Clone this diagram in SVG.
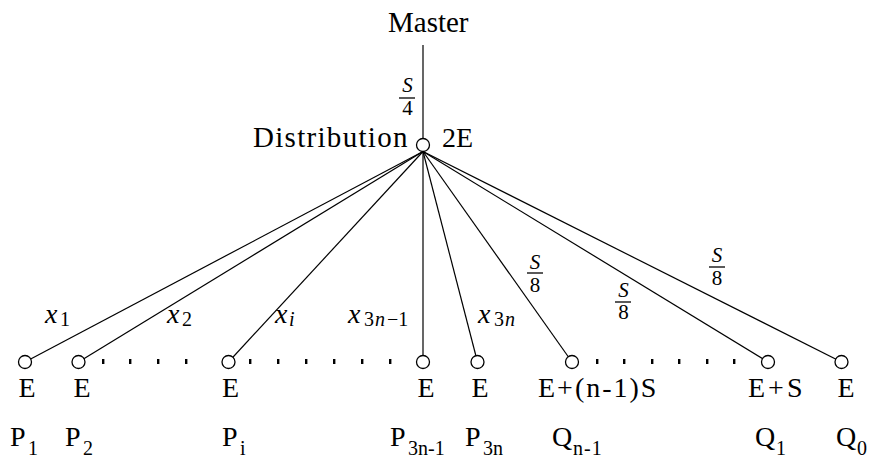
<svg xmlns="http://www.w3.org/2000/svg" width="869" height="460" viewBox="0 0 869 460">
<rect width="869" height="460" fill="#fff"/>
<g id="connectors" stroke="#000" stroke-width="1.2" fill="none">
<line x1="423" y1="45" x2="423" y2="139"/>
<line x1="423" y1="151.5" x2="25" y2="362"/>
<line x1="423" y1="151.5" x2="78.5" y2="362"/>
<line x1="423" y1="151.5" x2="228.5" y2="362"/>
<line x1="423" y1="151.5" x2="423" y2="362"/>
<line x1="423" y1="151.5" x2="477.5" y2="362"/>
<line x1="423" y1="151.5" x2="572" y2="362"/>
<line x1="423" y1="151.5" x2="768" y2="362"/>
<line x1="423" y1="151.5" x2="841.5" y2="362"/>
<line x1="399" y1="98" x2="415" y2="98" stroke-width="1.3"/>
<line x1="527" y1="273" x2="543" y2="273" stroke-width="1.3"/>
<line x1="615" y1="302" x2="631" y2="302" stroke-width="1.3"/>
<line x1="709" y1="267" x2="725" y2="267" stroke-width="1.3"/>
</g>
<g id="edge-labels">
<text x="407.5" y="92" font-family="Liberation Serif" font-size="21" font-style="italic" text-anchor="middle">S</text>
<text x="407.5" y="115" font-family="Liberation Serif" font-size="21" text-anchor="middle">4</text>
<text x="535" y="269" font-family="Liberation Serif" font-size="21" font-style="italic" text-anchor="middle">S</text>
<text x="535" y="292" font-family="Liberation Serif" font-size="21" text-anchor="middle">8</text>
<text x="623.5" y="297" font-family="Liberation Serif" font-size="21" font-style="italic" text-anchor="middle">S</text>
<text x="623.5" y="319" font-family="Liberation Serif" font-size="21" text-anchor="middle">8</text>
<text x="717" y="262" font-family="Liberation Serif" font-size="21" font-style="italic" text-anchor="middle">S</text>
<text x="717" y="285" font-family="Liberation Serif" font-size="21" text-anchor="middle">8</text>
<text x="45" y="323" font-family="Liberation Serif" font-size="28" font-style="italic">x</text>
<text x="60" y="326" font-family="Liberation Serif" font-size="20">1</text>
<text x="167" y="323" font-family="Liberation Serif" font-size="28" font-style="italic">x</text>
<text x="182" y="326" font-family="Liberation Serif" font-size="20">2</text>
<text x="275" y="323" font-family="Liberation Serif" font-size="28" font-style="italic">x</text>
<text x="289" y="326" font-family="Liberation Serif" font-size="20" font-style="italic">i</text>
<text x="348" y="323" font-family="Liberation Serif" font-size="28" font-style="italic">x</text>
<text x="364" y="326" font-family="Liberation Serif" font-size="20">3</text>
<text x="375" y="326" font-family="Liberation Serif" font-size="20" font-style="italic">n</text>
<text x="387" y="326" font-family="Liberation Serif" font-size="20">−1</text>
<text x="478" y="323" font-family="Liberation Serif" font-size="28" font-style="italic">x</text>
<text x="494" y="326" font-family="Liberation Serif" font-size="20">3</text>
<text x="505" y="326" font-family="Liberation Serif" font-size="20" font-style="italic">n</text>
</g>
<g id="master">
<text x="388" y="32" font-family="Liberation Serif" font-size="29">Master</text>
</g>
<g id="distribution">
<circle cx="423" cy="145" r="6.5" fill="#fff" stroke="#000" stroke-width="1.3"/>
<text x="253" y="147" font-family="Liberation Serif" font-size="29" letter-spacing="1.3">Distribution</text>
<text x="442" y="147" font-family="Liberation Serif" font-size="28">2E</text>
</g>
<g id="dots" fill="#000">
<rect x="102" y="359" width="2.4" height="5"/>
<rect x="129" y="359" width="2.4" height="5"/>
<rect x="157" y="359" width="2.4" height="5"/>
<rect x="185" y="359" width="2.4" height="5"/>
<rect x="249" y="359" width="2.4" height="5"/>
<rect x="277" y="359" width="2.4" height="5"/>
<rect x="305" y="359" width="2.4" height="5"/>
<rect x="333" y="359" width="2.4" height="5"/>
<rect x="361" y="359" width="2.4" height="5"/>
<rect x="389" y="359" width="2.4" height="5"/>
<rect x="596" y="359" width="2.4" height="5"/>
<rect x="623" y="359" width="2.4" height="5"/>
<rect x="651" y="359" width="2.4" height="5"/>
<rect x="678" y="359" width="2.4" height="5"/>
<rect x="706" y="359" width="2.4" height="5"/>
<rect x="733" y="359" width="2.4" height="5"/>
</g>
<g id="P1">
<circle cx="25" cy="362" r="6.5" fill="#fff" stroke="#000" stroke-width="1.3"/>
<text x="27" y="397" font-family="Liberation Serif" font-size="28" text-anchor="middle">E</text>
<text x="10" y="446" font-family="Liberation Serif" font-size="28">P</text>
<text x="28" y="455" font-family="Liberation Serif" font-size="20">1</text>
</g>
<g id="P2">
<circle cx="78.5" cy="362" r="6.5" fill="#fff" stroke="#000" stroke-width="1.3"/>
<text x="82" y="397" font-family="Liberation Serif" font-size="28" text-anchor="middle">E</text>
<text x="65" y="446" font-family="Liberation Serif" font-size="28">P</text>
<text x="83" y="455" font-family="Liberation Serif" font-size="20">2</text>
</g>
<g id="Pi">
<circle cx="228.5" cy="362" r="6.5" fill="#fff" stroke="#000" stroke-width="1.3"/>
<text x="230.5" y="397" font-family="Liberation Serif" font-size="28" text-anchor="middle">E</text>
<text x="222" y="446" font-family="Liberation Serif" font-size="28">P</text>
<text x="240" y="455" font-family="Liberation Serif" font-size="20">i</text>
</g>
<g id="P3n-1">
<circle cx="423" cy="362" r="6.5" fill="#fff" stroke="#000" stroke-width="1.3"/>
<text x="426" y="397" font-family="Liberation Serif" font-size="28" text-anchor="middle">E</text>
<text x="390" y="446" font-family="Liberation Serif" font-size="28">P</text>
<text x="408" y="455" font-family="Liberation Serif" font-size="20">3n-1</text>
</g>
<g id="P3n">
<circle cx="477.5" cy="362" r="6.5" fill="#fff" stroke="#000" stroke-width="1.3"/>
<text x="480" y="397" font-family="Liberation Serif" font-size="28" text-anchor="middle">E</text>
<text x="465" y="446" font-family="Liberation Serif" font-size="28">P</text>
<text x="483" y="455" font-family="Liberation Serif" font-size="20">3n</text>
</g>
<g id="Qn-1">
<circle cx="572" cy="362" r="6.5" fill="#fff" stroke="#000" stroke-width="1.3"/>
<text x="538" y="397" font-family="Liberation Serif" font-size="28" letter-spacing="2">E+(n-1)S</text>
<text x="552" y="446" font-family="Liberation Serif" font-size="28">Q</text>
<text x="573" y="455" font-family="Liberation Serif" font-size="20" letter-spacing="1">n-1</text>
</g>
<g id="Q1">
<circle cx="768" cy="362" r="6.5" fill="#fff" stroke="#000" stroke-width="1.3"/>
<text x="748" y="397" font-family="Liberation Serif" font-size="28" letter-spacing="3">E+S</text>
<text x="755" y="446" font-family="Liberation Serif" font-size="28">Q</text>
<text x="776" y="455" font-family="Liberation Serif" font-size="20">1</text>
</g>
<g id="Q0">
<circle cx="841.5" cy="362" r="6.5" fill="#fff" stroke="#000" stroke-width="1.3"/>
<text x="846" y="397" font-family="Liberation Serif" font-size="28" text-anchor="middle">E</text>
<text x="836" y="446" font-family="Liberation Serif" font-size="28">Q</text>
<text x="857" y="455" font-family="Liberation Serif" font-size="20">0</text>
</g>
</svg>
